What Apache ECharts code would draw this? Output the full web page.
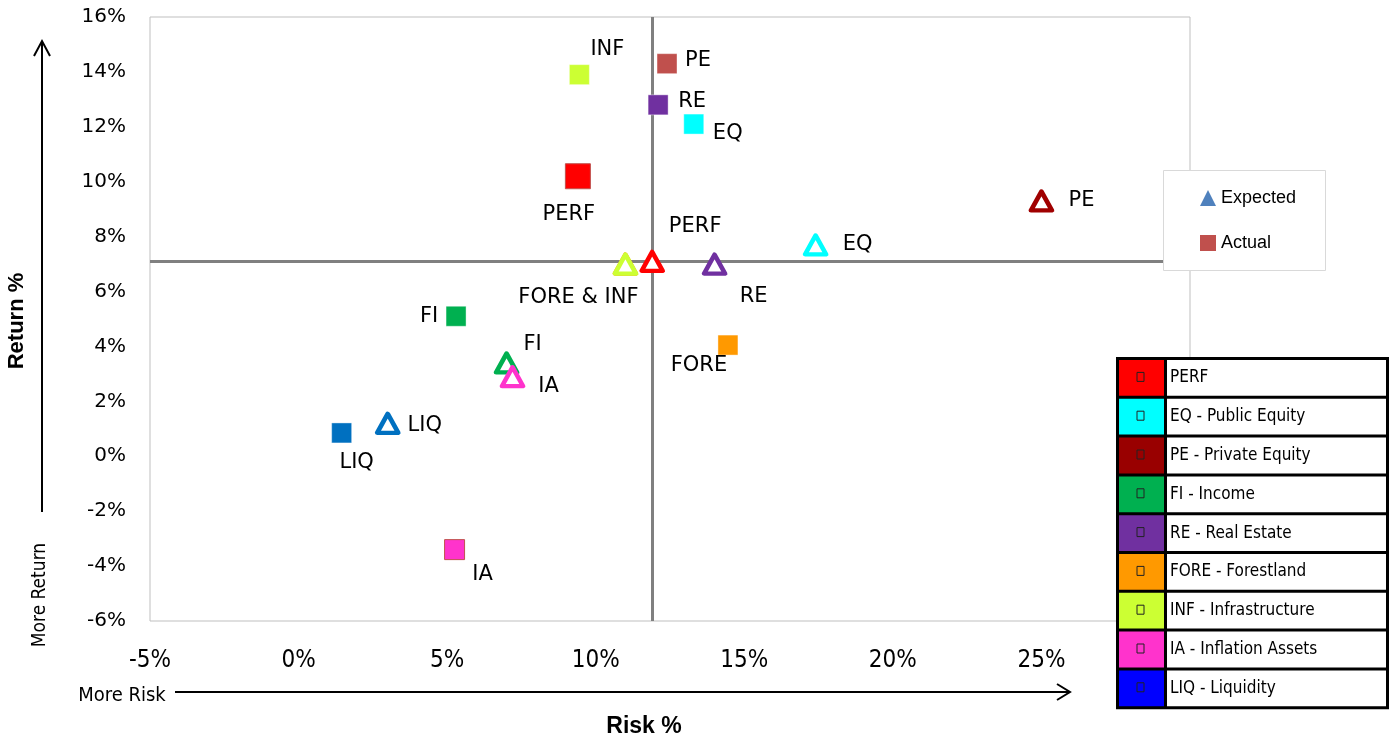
<!DOCTYPE html>
<html>
<head>
<meta charset="utf-8">
<script src="https://cdn.jsdelivr.net/npm/echarts@6/dist/echarts.min.js"></script>
<style>
html,body{margin:0;padding:0;background:#fff;}
#chart{width:1389px;height:738px;}
</style>
</head>
<body>
<div id="chart"></div>
<script>
// ---------- data ----------
const assets = ['PERF', 'EQ', 'PE', 'FI', 'RE', 'FORE', 'INF', 'IA', 'LIQ'];
const legendNames = ['PERF', 'EQ - Public Equity', 'PE - Private Equity', 'FI - Income', 'RE - Real Estate', 'FORE - Forestland', 'INF - Infrastructure', 'IA - Inflation Assets', 'LIQ - Liquidity'];
const expectedRisk   = [11.9, 17.4, 25.0, 7.0, 14.0, 11.0, 11.0, 7.2, 3.0];
const expectedReturn = [7.1, 7.7, 9.3, 3.4, 7.0, 7.0, 7.0, 2.9, 1.2];
const expectedLabels = ['PERF', 'EQ', 'PE', 'FI', 'RE', '', 'FORE & INF', 'IA', 'LIQ'];
const actualRisk     = [9.4, 13.3, 12.4, 5.3, 12.1, 14.45, 9.45, 5.25, 1.45];
const actualReturn   = [10.2, 12.1, 14.3, 5.1, 12.8, 4.05, 13.9, -3.4, 0.85];
const actualLabels   = ['PERF', 'EQ', 'PE', 'FI', 'RE', 'FORE', 'INF', 'IA', 'LIQ'];
const xTickValues = [-5, 0, 5, 10, 15, 20, 25, 30];
const yTickValues = [-6, -4, -2, 0, 2, 4, 6, 8, 10, 12, 14, 16];

// ---------- styles ----------
const expectedColors = ['#FF0000', '#00FFFF', '#A00000', '#00B050', '#7030A0', '#FF9900', '#CCFF33', '#FF33CC', '#0070C0'];
const actualColors   = ['#FF0000', '#00FFFF', '#C0504D', '#00B050', '#7030A0', '#FF9900', '#CCFF33', '#FF33CC', '#0070C0'];
const legendColors   = ['#FF0000', '#00FFFF', '#990000', '#00B050', '#7030A0', '#FF9900', '#CCFF33', '#FF33CC', '#0000FF'];
const expectedOffsets = {PERF:[43,-35], EQ:[42,0], PE:[40,0], FI:[26,-18], RE:[39,32], FORE:[0,0], INF:[-47,33], IA:[36,10], LIQ:[37,2]};
const actualOffsets   = {PERF:[-9,38], EQ:[34,9], PE:[31,-3], FI:[-27,0], RE:[34,-3], FORE:[-29,20], INF:[28,-25], IA:[28,25], LIQ:[15,30]};

const labelFont = {fontFamily: 'DejaVu Sans', fontSize: 21, color: '#000'};
const narrow = "'Liberation Sans Narrow', 'DejaVu Sans Condensed', sans-serif";

const expectedData = assets.map((a, i) => ({
  name: a,
  value: [expectedRisk[i], expectedReturn[i]],
  itemStyle: {color: '#ffffff', borderColor: expectedColors[i], borderWidth: 4.5, borderJoin: 'round', opacity: 1},
  label: {formatter: expectedLabels[i], offset: expectedOffsets[a]}
}));
const actualData = assets.map((a, i) => ({
  name: a,
  value: [actualRisk[i], actualReturn[i]],
  symbolSize: a === 'PERF' ? 25 : 20,
  itemStyle: {color: actualColors[i], borderColor: (a === 'PERF' || a === 'IA') ? '#C0504D' : 'rgba(255,255,255,0.4)', borderWidth: 1, opacity: 1},
  label: {formatter: actualLabels[i], offset: actualOffsets[a]}
}));

const perfIdx = assets.indexOf('PERF');

// ---------- graphic decorations ----------
const graphics = [];
graphics.push({type:'text', x:17, y:321, rotation:Math.PI/2, style:{text:'Return %', fontFamily:'Liberation Sans', fontWeight:'bold', fontSize:22, fill:'#000', align:'center', verticalAlign:'middle'}});
graphics.push({type:'text', x:40, y:595, rotation:Math.PI/2, style:{text:'More Return', fontFamily:narrow, fontSize:19, fill:'#000', align:'center', verticalAlign:'middle'}});
graphics.push({type:'text', x:122, y:696, style:{text:'More Risk', fontFamily:narrow, fontSize:20, fill:'#000', align:'center', verticalAlign:'middle'}});
graphics.push({type:'text', x:644, y:727, style:{text:'Risk %', fontFamily:'Liberation Sans', fontWeight:'bold', fontSize:23, fill:'#000', align:'center', verticalAlign:'middle'}});
graphics.push({type:'line', shape:{x1:42, y1:512, x2:42, y2:41}, style:{stroke:'#000', lineWidth:2}});
graphics.push({type:'polyline', shape:{points:[[34,56],[42,41],[50,56]]}, style:{stroke:'#000', lineWidth:2, fill:null}});
graphics.push({type:'line', shape:{x1:175, y1:692, x2:1069, y2:692}, style:{stroke:'#000', lineWidth:2}});
graphics.push({type:'polyline', shape:{points:[[1057,684],[1070,692],[1057,700]]}, style:{stroke:'#000', lineWidth:2, fill:null}});
graphics.push({type:'rect', z:10, shape:{x:1163.5, y:170.5, width:162, height:100}, style:{fill:'#fff', stroke:'#D9D9D9', lineWidth:1}});
const tblX = 1116, tblY = 357, tblW = 273, rowH = 38.8, colW = 50;
graphics.push({type:'rect', z:10, shape:{x:tblX, y:tblY, width:tblW, height:rowH*legendNames.length + 3}, style:{fill:'#000'}});
legendNames.forEach((nm, i) => {
  const top = tblY + i*rowH;
  graphics.push({type:'rect', z:11, shape:{x:tblX+3, y:top+3, width:colW-5, height:rowH-3}, style:{fill:legendColors[i]}});
  graphics.push({type:'rect', z:11, shape:{x:tblX+colW+1, y:top+3, width:tblW-colW-4, height:rowH-3}, style:{fill:'#fff'}});
  graphics.push({type:'rect', z:12, shape:{x:tblX+colW/2-4, y:top+rowH/2-4, width:7, height:9}, style:{fill:null, stroke:'#222', lineWidth:1}});
  graphics.push({type:'text', z:12, x:tblX+colW+4, y:top+rowH/2+1.5, style:{text:nm, fontFamily:narrow, fontSize:17, fill:'#000', verticalAlign:'middle'}});
});

const chart = echarts.init(document.getElementById('chart'));
chart.setOption({
  backgroundColor: '#fff',
  animation: false,
  grid: {left:150, top:17, width:1040, height:604, show:true, borderColor:'#BFBFBF', borderWidth:1, backgroundColor:'transparent'},
  xAxis: {
    type:'value', min:xTickValues[0], max:xTickValues[xTickValues.length-1], interval:5,
    axisLine:{show:false}, axisTick:{show:false}, splitLine:{show:false},
    axisLabel:{margin:28, fontFamily:narrow, fontSize:24, color:'#000', formatter: v => v === 30 ? '' : v + '%'}
  },
  yAxis: {
    type:'value', min:yTickValues[0], max:yTickValues[yTickValues.length-1], interval:2,
    axisLine:{show:false}, axisTick:{show:false}, splitLine:{show:false},
    axisLabel:{margin:24, fontFamily:'DejaVu Sans', fontSize:20, color:'#000', formatter: v => v + '%'}
  },
  legend: {
    orient:'vertical', left:1195, top:184, itemGap:27, itemWidth:16, itemHeight:16, z:20,
    textStyle:{fontFamily:'Liberation Sans', fontSize:18, color:'#000'},
    data:[
      {name:'Expected', icon:'triangle', itemStyle:{color:'#4F81BD', borderWidth:0, opacity:1}},
      {name:'Actual', icon:'rect', itemStyle:{color:'#C0504D', borderWidth:0, opacity:1}}
    ]
  },
  graphic: graphics,
  series: [
    {
      name:'Actual', type:'scatter', symbol:'rect', symbolSize:20, z:3,
      itemStyle:{color:'#C0504D', opacity:1},
      label:{show:true, position:'inside', ...labelFont},
      data: actualData,
      markLine:{
        silent:true, symbol:['none','none'], label:{show:false}, z:1,
        lineStyle:{color:'#808080', width:3, type:'solid', opacity:1},
        data:[{xAxis: expectedRisk[perfIdx]}, {yAxis: expectedReturn[perfIdx]}]
      }
    },
    {
      name:'Expected', type:'scatter', symbol:'triangle', symbolSize:[21,19], z:4,
      itemStyle:{color:'#4F81BD', opacity:1},
      label:{show:true, position:'inside', ...labelFont},
      data: expectedData
    }
  ]
});
</script>
</body>
</html>
